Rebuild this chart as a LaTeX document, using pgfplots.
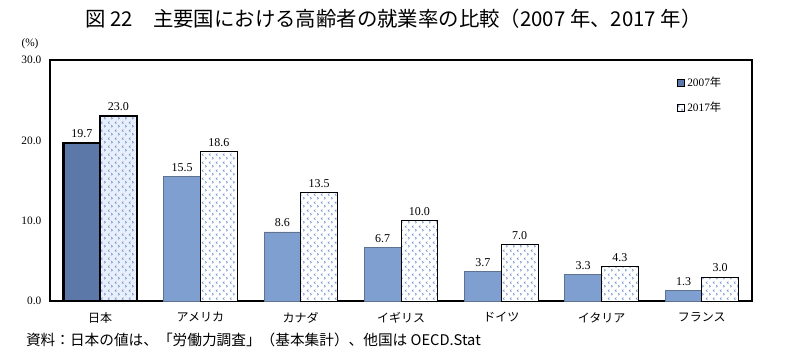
\documentclass[border=0pt]{standalone}
\usepackage{pgfplots}
\pgfplotsset{compat=1.18}
\usepackage{fontspec}
\setmainfont{Liberation Serif}
\newfontfamily\jp{Noto Sans CJK JP}
\usetikzlibrary{patterns}

\pgfdeclarepatternformonly{chev}{\pgfpointorigin}{\pgfpoint{5.4pt}{6pt}}{\pgfpoint{5.4pt}{6pt}}{
  \pgfsetlinewidth{0.5pt}
  \pgfpathmoveto{\pgfpoint{2.0pt}{3.6pt}}\pgfpathlineto{\pgfpoint{0.9pt}{4.5pt}}\pgfpathlineto{\pgfpoint{2.0pt}{5.4pt}}
  \pgfpathmoveto{\pgfpoint{3.4pt}{0.6pt}}\pgfpathlineto{\pgfpoint{4.5pt}{1.5pt}}\pgfpathlineto{\pgfpoint{3.4pt}{2.4pt}}
  \pgfusepath{stroke}
}

\definecolor{jpdark}{RGB}{92,120,168}
\definecolor{blu}{RGB}{127,159,209}
\definecolor{bluedge}{RGB}{95,115,145}
\definecolor{patcol}{RGB}{110,145,210}
\definecolor{jplight}{RGB}{232,239,250}

\begin{document}
\begin{tikzpicture}[x=1pt,y=1pt]
\useasboundingbox (0,0) rectangle (600,-270);
\node[font=\jp\fontsize{15.3}{17}\selectfont] at (295,-14) {図 22\quad 主要国における高齢者の就業率の比較（2007 年、2017 年）};
\node[font=\fontsize{8.5}{10}\selectfont] at (22.5,-32.5) {(\%)};
\node[font=\jp\fontsize{11}{12}\selectfont, anchor=west] at (16,-255) {資料：日本の値は、「労働力調査」（基本集計）、他国は OECD.Stat};
\begin{axis}[
  at={(37.5pt,-225.75pt)}, anchor=south west,
  width=526.5pt, height=180.75pt, scale only axis,
  ymin=0, ymax=30, xmin=-0.5, xmax=6.5,
  ytick={0,10,20,30}, yticklabels={0.0,10.0,20.0,30.0},
  xtick={0,1,2,3,4,5,6},
  xticklabels={日本,アメリカ,カナダ,イギリス,ドイツ,イタリア,フランス},
  xticklabel style={font=\jp\fontsize{9}{10}\selectfont, yshift=-5pt},
  yticklabel style={font=\fontsize{8.5}{10}\selectfont, xshift=-3pt},
  major tick length=0pt,
  axis line style={line width=0.8pt},
  ybar, bar width=0.366,
  clip=false,
  nodes near coords,
  nodes near coords style={font=\fontsize{9}{10}\selectfont, black,
    /pgf/number format/.cd, fixed, fixed zerofill, precision=1, assume math mode=true},
  legend style={draw=none, fill=none, at={(0.893,0.94)}, anchor=north west,
    font=\fontsize{8.5}{10}\selectfont, row sep=6pt, inner sep=0pt},
  legend cell align=left,
]
\addplot[fill=blu, draw=bluedge, line width=0.6pt, bar shift=-0.183,
  legend image code/.code={\draw[fill=jpdark, draw=black, line width=0.6pt] (0pt,-2.5pt) rectangle (5pt,2.5pt);}]
  coordinates {(1,15.5) (2,8.6) (3,6.7) (4,3.7) (5,3.3) (6,1.3)};
\addlegendentry{2007{\jp 年}}
\addplot[fill=white, draw=black, line width=0.6pt, bar shift=0.183,
  postaction={pattern=chev, pattern color=patcol},
  legend image code/.code={\draw[fill=white, draw=black, line width=0.6pt] (0pt,-2.5pt) rectangle (5pt,2.5pt);}]
  coordinates {(1,18.6) (2,13.5) (3,10.0) (4,7.0) (5,4.3) (6,3.0)};
\addlegendentry{2017{\jp 年}}
\addplot[fill=jpdark, draw=black, line width=1.6pt, bar shift=-0.183, forget plot]
  coordinates {(0,19.7)};
\addplot[fill=jplight, draw=black, line width=1.6pt, bar shift=0.183, forget plot,
  postaction={pattern=chev, pattern color=patcol}]
  coordinates {(0,23.0)};
\end{axis}
\end{tikzpicture}
\end{document}
